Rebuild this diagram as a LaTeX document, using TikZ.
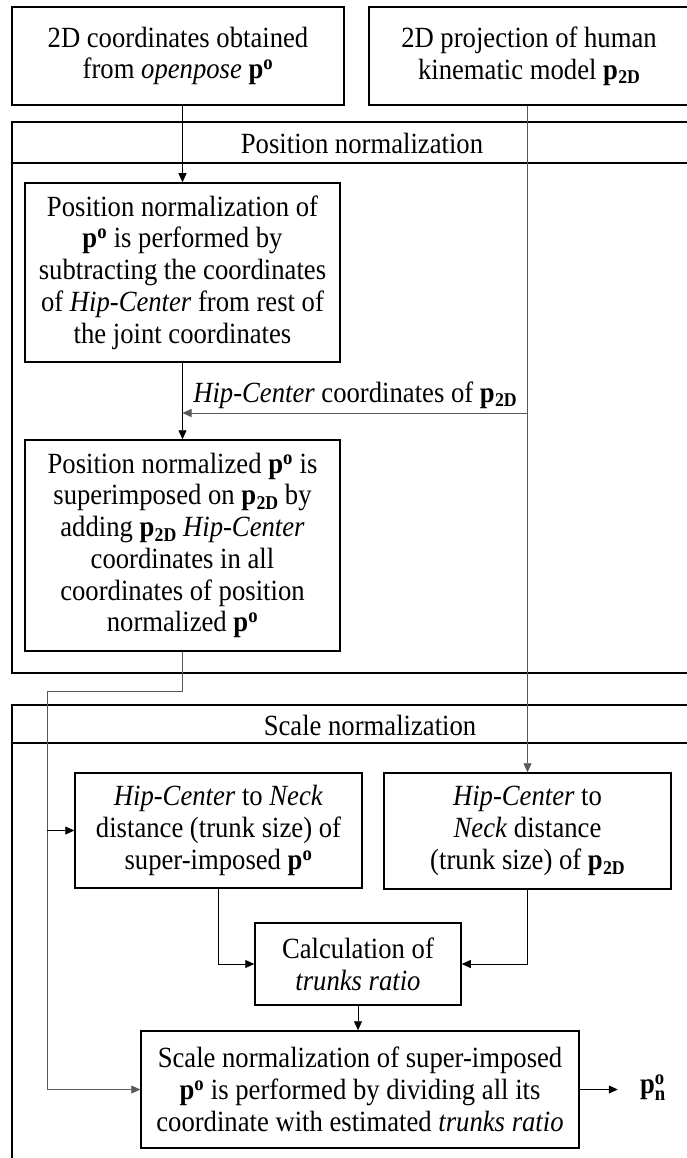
\documentclass[tikz,border=0pt]{standalone}
\usepackage{amsmath}
\usepackage{fontspec}
\setmainfont[FakeStretch=0.91]{Liberation Serif}
\usetikzlibrary{arrows.meta}

% recurring symbols
\newcommand{\pOpen}{\textbf{p}\textsuperscript{\textbf{o}}}
\newcommand{\pModel}{\textbf{p}\kern0.3pt\raisebox{-0.16em}{\fontsize{19.5}{19.5}\selectfont\textbf{2D}}}
\newcommand{\hipc}{\textit{Hip-Center}}

\begin{document}
\begin{tikzpicture}[x=1pt,y=-1pt,
  every node/.style={font=\fontsize{29.3}{31.75}\selectfont},
  box/.style={draw, line width=1.5pt, align=center, inner sep=0pt},
  frame/.style={draw, line width=1.6pt},
  link/.style={line width=0.8pt},
  faint/.style={line width=0.8pt, draw=black!65},
  tip/.style={-{Triangle[length=9pt,width=8pt]}}]
\useasboundingbox (0,0) rectangle (687,1158);

% stage frames with title bars
\draw[frame] (12,122) rectangle (720,673);
\draw[frame] (12,163) -- (720,163);
\node (posT) at (362,143) {Position normalization};
\draw[frame] (12,705) rectangle (720,1200);
\draw[frame] (12,743) -- (720,743);
\node (sclT) at (370,725) {Scale normalization};

% inputs
\node[box, minimum width=332pt, minimum height=98pt] (src) at (178,56)
  {2D coordinates obtained\\from \textit{openpose} \pOpen};
\node[box, minimum width=320pt, minimum height=98pt] (mdl) at (529,56)
  {2D projection of human\\kinematic model \pModel};

% position normalization
\node[box, minimum width=315pt, minimum height=179pt] (nrm) at (182.5,272.5)
  {Position normalization of\\\pOpen{} is performed by\\subtracting the coordinates\\of \hipc{} from rest of\\the joint coordinates};
\node[box, minimum width=315pt, minimum height=211pt] (sup) at (182.5,545.5)
  {Position normalized \pOpen{} is\\superimposed on \pModel{} by\\adding \pModel{} \hipc\\coordinates in all\\coordinates of position\\normalized \pOpen};

% scale normalization
\node[box, minimum width=287pt, minimum height=115pt] (dimA) at (218.5,830.5)
  {\hipc{} to \textit{Neck}\\distance (trunk size) of\\super-imposed \pOpen};
\node[box, minimum width=287pt, minimum height=116pt] (dimB) at (527.5,831)
  {\hipc{} to\\\textit{Neck} distance\\(trunk size) of \pModel};
\node[box, minimum width=206pt, minimum height=82pt] (ratio) at (358,964)
  {Calculation of\\\textit{trunks ratio}};
\node[box, minimum width=438pt, minimum height=117pt] (out) at (360,1089.5)
  {Scale normalization of super-imposed\\\pOpen{} is performed by dividing all its\\coordinate with estimated \textit{trunks ratio}};
\node (res) at (653,1088) {$\textbf{p}^{\textbf{o}}_{\textbf{n}}$};

% connectors
\draw[link, tip] (src.south -| nrm.north) -- (nrm.north);
\draw[link, tip] (nrm.south) -- (sup.north);
\draw[faint, tip] (mdl.south -| dimB.north) -- (dimB.north);
\coordinate (tap) at (527.5,413);
\draw[faint, tip] (tap) -- (tap -| nrm.south)
  node[midway, above=1pt, text=black] {\hipc{} coordinates of \pModel};
\coordinate (lane) at (47,691);
\draw[faint] (sup.south) |- (lane);
\draw[faint, tip] (lane) |- (out.west);
\draw[link, tip] (lane |- dimA.west) -- (dimA.west);
\draw[link, tip] (dimA.south) |- (ratio.west);
\draw[link, tip] (dimB.south) |- (ratio.east);
\draw[link, tip] (ratio.south) -- (ratio.south |- out.north);
\draw[link, tip] (out.east) -- ++(38,0) coordinate (outTip);
\end{tikzpicture}
\end{document}
